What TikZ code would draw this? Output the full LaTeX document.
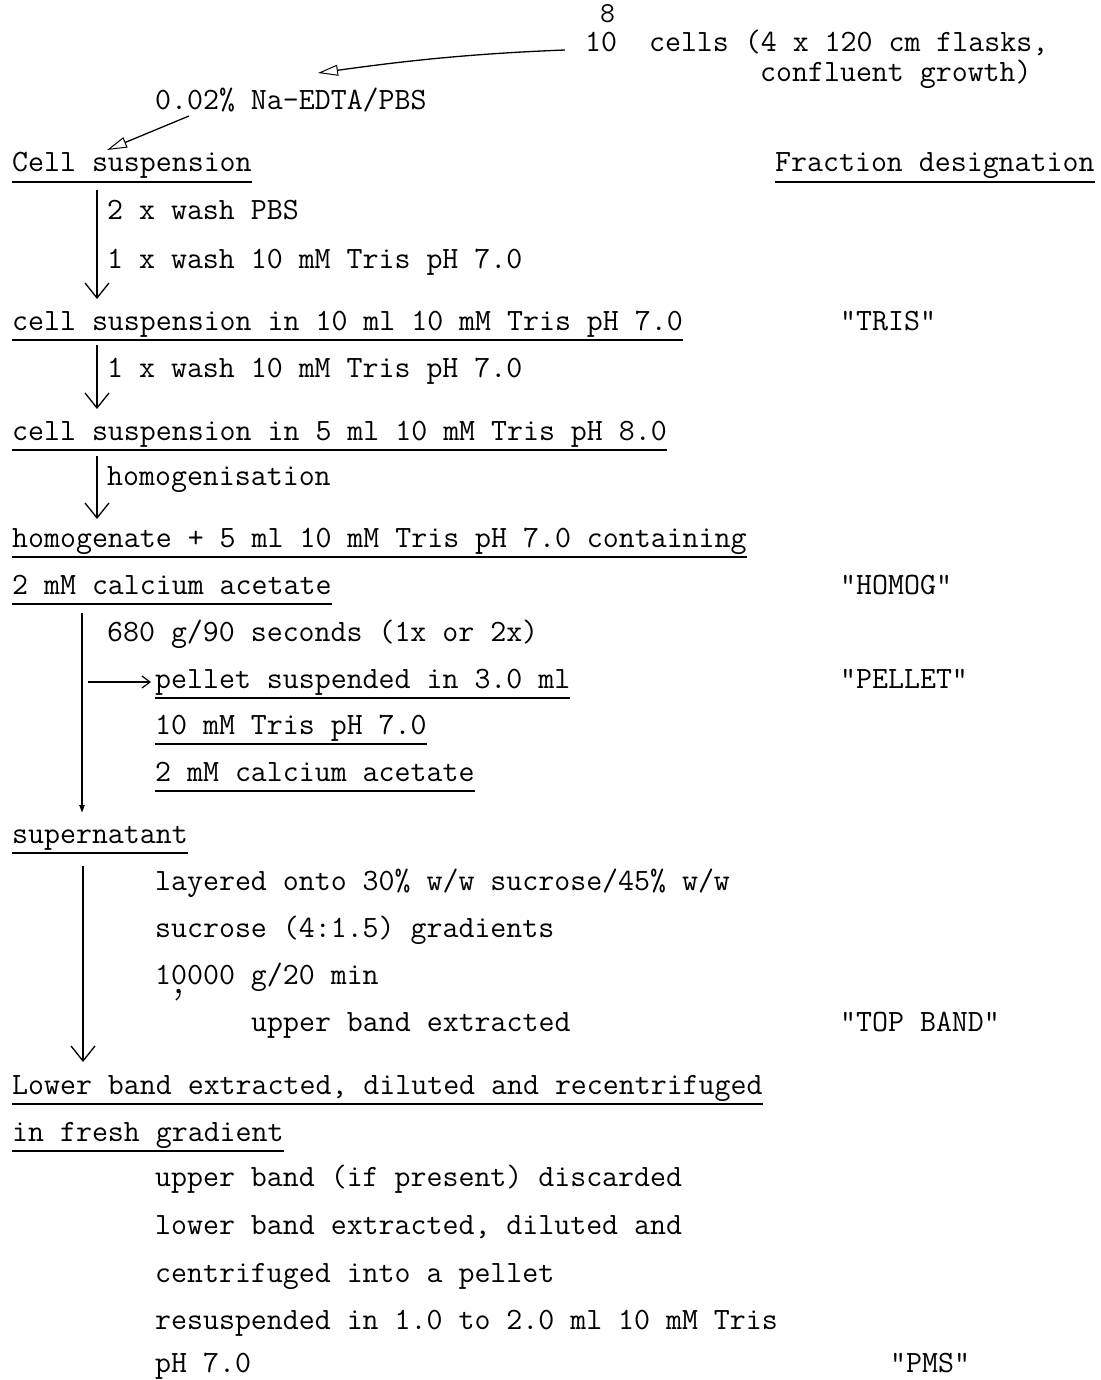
\documentclass[tikz,border=0pt]{standalone}
\usepackage{fontspec}
\usetikzlibrary{arrows.meta}
\begin{document}
\begin{tikzpicture}[x=1pt,y=-1pt,
  txt/.style={anchor=base west, inner sep=0pt, font=\ttfamily\fontsize{31}{36}\selectfont\addfontfeature{FakeBold=0.4}},
  ul/.style={line width=1.1pt},
  flow/.style={line width=1.3pt, -{Straight Barb[length=15pt,width=24pt,line width=1.3pt]}},
  thickflow/.style={line width=2.6pt, -{Triangle[length=8pt,width=5pt]}},
  sidearrow/.style={line width=1.2pt, -{Straight Barb[length=8pt,width=12pt,line width=1.2pt]}},
  openhead/.style={line width=1.3pt, -{Triangle[open,length=20pt,width=11pt,line width=1pt]}}
]
\useasboundingbox (0,0) rectangle (1100,1380);
% text lines
\node[txt, text height=19pt, text depth=0pt] (cells) at (585,52) {10\makebox[16pt]{} cells (4 x 120 cm flasks,};
\node[txt, text depth=0pt, font=\ttfamily\fontsize{29}{34}\selectfont\addfontfeature{FakeBold=0.4}] (sup8) at (600,23) {8};
\node[txt, text height=18pt] (conf) at (760,82) {confluent growth)};
\node[txt] (edta) at (155,110) {0.02\% Na-EDTA/PBS};
\node[txt] (cs) at (12,172) {Cell suspension};
\node[txt] (fd) at (775,172) {Fraction designation};
\node[txt] (w1) at (107,220) {2 x wash PBS};
\node[txt] (w2) at (107,268) {1 x wash 10 mM Tris pH 7.0};
\node[txt] (s10) at (12,330) {cell suspension in 10 ml 10 mM Tris pH 7.0};
\node[txt] (ftris) at (840,330) {"TRIS"};
\node[txt] (w3) at (107,377) {1 x wash 10 mM Tris pH 7.0};
\node[txt] (s5) at (12,440) {cell suspension in 5 ml 10 mM Tris pH 8.0};
\node[txt] (hom) at (107,485) {homogenisation};
\node[txt] (h1) at (12,547) {homogenate + 5 ml 10 mM Tris pH 7.0 containing};
\node[txt] (h2) at (12,594) {2 mM calcium acetate};
\node[txt] (fhomog) at (840,594) {"HOMOG"};
\node[txt] (g680) at (107,641) {680 g/90 seconds (1x or 2x)};
\node[txt] (p1) at (155,688) {pellet suspended in 3.0 ml};
\node[txt] (fpellet) at (840,688) {"PELLET"};
\node[txt] (p2) at (155,734) {10 mM Tris pH 7.0};
\node[txt] (p3) at (155,781) {2 mM calcium acetate};
\node[txt] (sup) at (12,843) {supernatant};
\node[txt] (l1) at (155,890) {layered onto 30\% w/w sucrose/45\% w/w};
\node[txt] (l2) at (155,937) {sucrose (4:1.5) gradients};
\node[txt] (l3) at (155,984) {10000 g/20 min};
\node[txt] (l4) at (251,1031) {upper band extracted};
\node[txt] (ftop) at (840,1031) {"TOP BAND"};
\node[txt] (lb1) at (12,1094) {Lower band extracted, diluted and recentrifuged};
\node[txt] (lb2) at (12,1141) {in fresh gradient};
\node[txt] (r1) at (155,1186) {upper band (if present) discarded};
\node[txt] (r2) at (155,1234) {lower band extracted, diluted and};
\node[txt] (r3) at (155,1282) {centrifuged into a pellet};
\node[txt] (r4) at (155,1329) {resuspended in 1.0 to 2.0 ml 10 mM Tris};
\node[txt] (r5) at (155,1372) {pH 7.0};
\node[txt] (fpms) at (890,1372) {"PMS"};
% typed comma under 10000
\fill (178.5,991) circle (2.2pt);
\draw[line width=1.2pt] (180,991) .. controls (180,996) .. (176,1000);
% underlines
\foreach \n in {cs,fd,s10,s5,h1,h2,p1,p2,p3,sup,lb1,lb2}
  \draw[ul] ([yshift=-10pt]\n.base west) -- ([yshift=-10pt]\n.base east);
% arrow end points
\coordinate (t0) at (565,50);
\coordinate (t1) at (318,73);
\coordinate (e0) at (189,116);
\coordinate (e1) at (107,150);
\coordinate (a1s) at (97,190);
\coordinate (a1e) at (97,299);
\coordinate (a2s) at (97,345);
\coordinate (a2e) at (97,409);
\coordinate (a3s) at (97,456);
\coordinate (a3e) at (97,519);
\coordinate (a4s) at (82,613);
\coordinate (a4e) at (82,813);
\coordinate (pbs) at (88,682);
\coordinate (a5s) at (83,866);
\coordinate (a5e) at (83,1062);
% connectors
\draw[openhead] (t0) .. controls (460,54) and (390,63) .. (t1);
\draw[openhead] (e0) -- (e1);
\draw[flow] (a1s) -- (a1e);
\draw[flow] (a2s) -- (a2e);
\draw[flow] (a3s) -- (a3e);
\draw[thickflow] (a4s) -- (a4e);
\draw[sidearrow] (pbs) -- ([xshift=-4pt]p1.west |- pbs);
\draw[flow] (a5s) -- (a5e);
\end{tikzpicture}
\end{document}
